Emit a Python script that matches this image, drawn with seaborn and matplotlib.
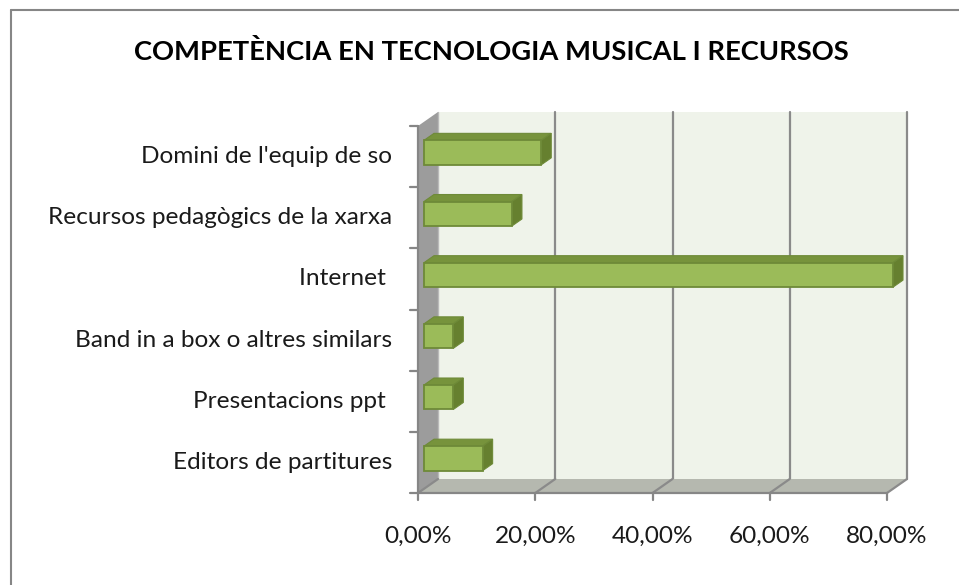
import numpy as np
import pandas as pd
import matplotlib
matplotlib.use("Agg")
import matplotlib.pyplot as plt
from matplotlib.patches import Polygon, Rectangle
from matplotlib.lines import Line2D
import seaborn as sns

# ---- data -------------------------------------------------------------
categories = [
    "Domini de l'equip de so",
    "Recursos pedagògics de la xarxa",
    "Internet ",
    "Band in a box o altres similars",
    "Presentacions ppt ",
    "Editors de partitures",
]
values = [0.20, 0.15, 0.80, 0.05, 0.05, 0.10]
xticks = [0.0, 0.2, 0.4, 0.6, 0.8]
xticklabels = ["0,00%", "20,00%", "40,00%", "60,00%", "80,00%"]
title = "COMPETÈNCIA EN TECNOLOGIA MUSICAL I RECURSOS"

# ---- style ------------------------------------------------------------
sns.set_style("white")
FONT = ["Lato", "DejaVu Sans"]
plt.rcParams["font.family"] = FONT

BAR_FRONT = "#9bbb59"
BAR_TOP = "#77933c"
BAR_SIDE = "#66802f"
BAR_EDGE = "#6e8a38"
WALL_BACK = "#eff3ea"
WALL_LEFT = "#9c9c9c"
FLOOR = "#b5b8af"
GRID = "#8a8a8a"
AXIS = "#868686"
LABEL_SIZE = 17.6

W, H, DPI = 959, 585, 100
fig = plt.figure(figsize=(W / DPI, H / DPI), dpi=DPI)
fig.patch.set_facecolor("white")

# the axes spans the plane of the bars' front faces
ax = fig.add_axes([424 / W, 1 - 489 / H, 469 / W, 367 / H])
df = pd.DataFrame({"categoria": categories, "valor": values})
sns.barplot(data=df, x="valor", y="categoria", orient="h", color=BAR_FRONT,
            width=0.4, saturation=1, edgecolor=BAR_EDGE, linewidth=1.3, ax=ax)
ax.set_xlim(0, 0.8)
ax.set_ylim(len(categories) - 0.5, -0.5)
ax.axis("off")
fig.canvas.draw()

# depth direction of the 3-D box in display pixels
DEPTH = np.array([20.0, 14.0])
FRONT_SHIFT = np.array([-6.0, -4.0])


def plane(x, y, d):
    """Data point (x, y) moved to depth d (0 = front plane, 1 = back wall)."""
    p = ax.transData.transform((x, y)) + FRONT_SHIFT + d * DEPTH
    return ax.transData.inverted().transform(p)


def shift(pt, dx, dy):
    p = ax.transData.transform(pt) + np.array([dx, dy])
    return ax.transData.inverted().transform(p)


x0, x1 = 0.0, 0.8
ytop, ybot = -0.5, len(categories) - 0.5

# back wall
ax.add_patch(Polygon([plane(x0, ytop, 1), plane(x1, ytop, 1), plane(x1, ybot, 1),
                      plane(x0, ybot, 1)], closed=True, facecolor=WALL_BACK,
                     edgecolor="none", zorder=0, clip_on=False))
# left wall
ax.add_patch(Polygon([plane(x0, ytop, 0), plane(x0, ytop, 1), plane(x0, ybot, 1),
                      plane(x0, ybot, 0)], closed=True, facecolor=WALL_LEFT,
                     edgecolor="none", zorder=0.6, clip_on=False))
# floor
ax.add_patch(Polygon([plane(x0, ybot, 0), plane(x1, ybot, 0), plane(x1, ybot, 1),
                      plane(x0, ybot, 1)], closed=True, facecolor=FLOOR,
                     edgecolor="none", zorder=0.6, clip_on=False))

# gridlines on back wall and floor
for xv in xticks:
    a, b, c = plane(xv, ytop, 1), plane(xv, ybot, 1), plane(xv, ybot, 0)
    lw = 1.6
    if xv > 0:
        ax.add_line(Line2D([a[0], b[0]], [a[1], b[1]], color=GRID, lw=lw,
                           zorder=0.5, clip_on=False))
    else:
        ax.add_line(Line2D([a[0], b[0]], [a[1], b[1]], color="#b9b9b9", lw=1.0,
                           zorder=0.7, clip_on=False))
    ax.add_line(Line2D([b[0], c[0]], [b[1], c[1]], color=GRID, lw=lw,
                       zorder=0.8, clip_on=False))

# front axis lines
p0, p1 = plane(x0, ytop, 0), plane(x0, ybot, 0)
ax.add_line(Line2D([p0[0], p1[0]], [p0[1], p1[1]], color=AXIS, lw=1.6,
                   zorder=0.9, clip_on=False))
p0, p1 = plane(x0, ybot, 0), plane(x1, ybot, 0)
ax.add_line(Line2D([p0[0], p1[0]], [p0[1], p1[1]], color=AXIS, lw=1.6,
                   zorder=0.9, clip_on=False))

# ticks
for k in range(len(categories) + 1):
    a = plane(x0, k - 0.5, 0)
    b = shift(a, -8, 0)
    ax.add_line(Line2D([a[0], b[0]], [a[1], b[1]], color=AXIS, lw=1.6,
                       zorder=0.9, clip_on=False))
for xv, lab in zip(xticks, xticklabels):
    a = plane(xv, ybot, 0)
    b = shift(a, 0, -7)
    ax.add_line(Line2D([a[0], b[0]], [a[1], b[1]], color=AXIS, lw=1.6,
                       zorder=0.9, clip_on=False))
    t = shift(a, 0, -43)
    ax.text(t[0], t[1], lab, ha="center", va="center", fontsize=LABEL_SIZE,
            color="#1a1a1a", clip_on=False)

# category labels
for k, lab in enumerate(categories):
    a = shift(plane(x0, k, 0), -26, 0)
    ax.text(a[0], a[1], lab, ha="right", va="center", fontsize=LABEL_SIZE,
            color="#1a1a1a", clip_on=False)

# 3-D faces of the bars
bar_depth = 0.5
for rect in list(ax.patches):
    if not isinstance(rect, Rectangle):
        continue
    bx, by = rect.get_x(), rect.get_y()
    bw, bh = rect.get_width(), rect.get_height()
    rect.set_zorder(3)
    rect.set_clip_on(False)
    dx, dy = bar_depth * DEPTH
    tl, tr = (bx, by), (bx + bw, by)
    br = (bx + bw, by + bh)
    top = [tl, tr, shift(tr, dx, dy), shift(tl, dx, dy)]
    side = [tr, br, shift(br, dx, dy), shift(tr, dx, dy)]
    ax.add_patch(Polygon(top, closed=True, facecolor=BAR_TOP, edgecolor=BAR_EDGE,
                         lw=0.8, zorder=2.9, clip_on=False))
    ax.add_patch(Polygon(side, closed=True, facecolor=BAR_SIDE, edgecolor=BAR_EDGE,
                         lw=0.8, zorder=2.9, clip_on=False))

# title
fig.text(491 / W, 1 - 52 / H, title, ha="center", va="center", fontsize=19.7,
         fontweight="bold", color="#000000")

# chart frame
fig.add_artist(Line2D([11 / W, 11 / W], [0, 1 - 10 / H], color=AXIS, lw=1.5,
                      transform=fig.transFigure))
fig.add_artist(Line2D([11 / W, 1], [1 - 10 / H, 1 - 10 / H], color=AXIS, lw=1.5,
                      transform=fig.transFigure))

fig.savefig("out.png", dpi=DPI, facecolor="white")
